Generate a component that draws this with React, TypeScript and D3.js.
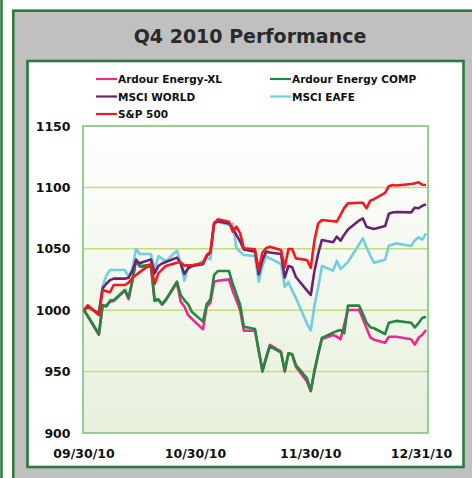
import { useEffect, useRef } from "react";
import { select, scaleLinear, scaleTime, line, timeParse } from "d3";

const dates = [
  "09/30/10", "10/01/10", "10/04/10", "10/05/10", "10/06/10", "10/07/10", "10/08/10",
  "10/11/10", "10/12/10", "10/13/10", "10/14/10", "10/15/10", "10/18/10", "10/19/10",
  "10/20/10", "10/21/10", "10/22/10", "10/25/10", "10/26/10", "10/27/10", "10/28/10",
  "10/29/10", "11/01/10", "11/02/10", "11/03/10", "11/04/10", "11/05/10", "11/08/10",
  "11/09/10", "11/10/10", "11/11/10", "11/12/10", "11/15/10", "11/16/10", "11/17/10",
  "11/18/10", "11/19/10", "11/22/10", "11/23/10", "11/24/10", "11/25/10", "11/26/10",
  "11/29/10", "11/30/10", "12/01/10", "12/02/10", "12/03/10", "12/06/10", "12/07/10",
  "12/08/10", "12/09/10", "12/10/10", "12/13/10", "12/14/10", "12/15/10", "12/16/10",
  "12/17/10", "12/20/10", "12/21/10", "12/22/10", "12/23/10", "12/27/10", "12/28/10",
  "12/29/10", "12/30/10", "12/31/10",
];

const ardourXL = [
  1000, 995, 980, 1003.5, 1003, 1007, 1007.5, 1016, 1009, 1023.5, 1040.5, 1035.5, 1035.5,
  1007.5, 1008.5, 1004.5, 1008, 1022.4, 1007, 1003, 996, 993, 984.4, 1002.9, 1006.1, 1023.2,
  1024, 1025.1, 1015.7, 1008, 1000.2, 983.3, 983.3, 967, 951.3, 962, 971.7, 966.2, 950,
  964.9, 963.5, 954, 941.8, 934, 950, 964, 976.5, 979.8, 978.5, 976.3, 988, 1000.2, 1000.2,
  993, 985.4, 977.9, 976, 973.5, 978.4, 978.4, 978.4, 976.3, 972, 977.5, 980, 983.9,
];

const ardourComp = [
  1000, 995.5, 980.6, 1004.2, 1003.4, 1007.8, 1008.2, 1016.5, 1010.5, 1024, 1041.4, 1036,
  1037, 1008.3, 1008.8, 1005, 1008.6, 1023.2, 1012.4, 1008.3, 1005, 998.8, 990.7, 1005,
  1008.8, 1028.7, 1031.9, 1031.9, 1021.5, 1013, 1004.2, 986.6, 984.7, 967, 950, 960.5,
  970.8, 965.4, 950.5, 964.9, 964.3, 955.4, 944.5, 934.5, 951, 965, 977.5, 981.7, 983,
  983.9, 981.2, 1003.7, 1003.7, 997, 990, 986.2, 985.3, 980.6, 989.8, 990.5, 991.3, 989.8,
  986, 989.5, 993.6, 994.7,
];

const msciWorld = [
  1000, 1003, 997, 1017.8, 1021.5, 1024.5, 1025.7, 1025.7, 1026.5, 1032, 1040.5, 1038.2,
  1041.4, 1030, 1036, 1038, 1039.3, 1042.8, 1038.2, 1029.5, 1034, 1036, 1037.5, 1044, 1047,
  1071, 1072.5, 1070.7, 1066.6, 1061.2, 1056, 1049.5, 1047.7, 1029.2, 1041, 1047.7, 1047,
  1045.7, 1026.5, 1036, 1035, 1027, 1016, 1012.4, 1032, 1046, 1057.2, 1055.3, 1059.9,
  1056.6, 1061.5, 1065.8, 1073, 1074.8, 1068, 1067, 1066.1, 1068.5, 1078.5, 1079.6, 1080,
  1079.7, 1083.5, 1083, 1085, 1086.2,
];

const msciEafe = [
  1000, 1003, 998, 1019.7, 1028, 1032.7, 1032.7, 1032.7, 1027, 1034, 1050, 1045.8, 1045.8,
  1032.7, 1044.1, 1042, 1039.8, 1048.5, 1038.2, 1024.1, 1034.9, 1035, 1040, 1043, 1041.4,
  1070, 1072.1, 1069.4, 1070.5, 1050.4, 1047.5, 1045, 1044.1, 1023.2, 1036, 1044.1, 1042.2,
  1037.6, 1019, 1023, 1016, 1010, 989, 983.5, 1004, 1018.5, 1036, 1032.2, 1040.3, 1033.5,
  1036.3, 1039.3, 1053.5, 1058.5, 1051, 1044.5, 1038.7, 1041, 1052.5, 1053.5, 1054.4,
  1052.3, 1056.9, 1059.3, 1057.5, 1062.6,
];

const sp500 = [
  1000, 1004, 996, 1016.5, 1015.5, 1014.6, 1020.5, 1020.5, 1022.5, 1026.2, 1028.7, 1031,
  1037.6, 1021.3, 1030, 1033, 1036, 1038.7, 1039, 1036.3, 1036.5, 1036.6, 1038.2, 1045,
  1047.7, 1070.7, 1074, 1072.1, 1064, 1068, 1062.6, 1050.4, 1049.5, 1032.7, 1047, 1050.5,
  1051.7, 1049, 1034.9, 1049.8, 1049.8, 1042.2, 1040.9, 1034.5, 1057, 1070.7, 1073.4,
  1072.4, 1072.1, 1077.7, 1083.3, 1087, 1087.5, 1087.5, 1083, 1089.2, 1090.4, 1095.6, 1101,
  1102, 1101.6, 1102.8, 1103.3, 1104.1, 1102.2, 1102,
];

const yTicks = [900, 950, 1000, 1050, 1100, 1150];
const xTicks = ["09/30/10", "10/30/10", "11/30/10", "12/31/10"];

const seriesNames = ["Ardour Energy-XL", "Ardour Energy COMP", "MSCI WORLD", "MSCI EAFE", "S&P 500"];
const seriesValues = [ardourXL, ardourComp, msciWorld, msciEafe, sp500];
const seriesColors = ["#ec2a8c", "#23883f", "#6b2270", "#72cde0", "#f2191f"];
// draw order: cyan, pink, green, purple, red on top
const drawOrder = [3, 0, 1, 2, 4];

const parse = timeParse("%m/%d/%y");
const font = "'DejaVu Sans', Verdana, sans-serif";

const drawChart = (ref: SVGSVGElement, size = { w: 472, h: 478 }) => {
  const svg = select(ref);
  svg.selectAll("*").remove();
  svg.attr("width", size.w).attr("height", size.h);

  const plot = { l: 83, r: 428, t: 126, b: 433 };

  const defs = svg.append("defs");
  const grad = defs
    .append("linearGradient")
    .attr("id", "plotBg")
    .attr("x1", 0)
    .attr("y1", 0)
    .attr("x2", 0)
    .attr("y2", 1);
  grad.append("stop").attr("offset", "0%").attr("stop-color", "#ffffff");
  grad.append("stop").attr("offset", "100%").attr("stop-color", "#e7f0db");

  // page frame
  svg.append("rect").attr("width", size.w).attr("height", size.h).attr("fill", "#ffffff");
  svg
    .append("line")
    .attr("x1", 1.5)
    .attr("x2", 1.5)
    .attr("y1", 0)
    .attr("y2", size.h)
    .attr("stroke", "#2b7a3d")
    .attr("stroke-width", 2.5);

  svg
    .append("rect")
    .attr("x", 13.3)
    .attr("y", 10.7)
    .attr("width", size.w)
    .attr("height", size.h)
    .attr("fill", "#c0c0c0")
    .attr("stroke", "#2b7a3d")
    .attr("stroke-width", 2.6);

  svg
    .append("text")
    .attr("x", 250)
    .attr("y", 43)
    .attr("text-anchor", "middle")
    .attr("font-family", font)
    .attr("font-weight", "bold")
    .attr("font-size", 19)
    .attr("fill", "#2a2a2a")
    .text("Q4 2010 Performance");

  svg
    .append("rect")
    .attr("x", 27.5)
    .attr("y", 61)
    .attr("width", 436)
    .attr("height", 406)
    .attr("fill", "#ffffff")
    .attr("stroke", "#2b7a3d")
    .attr("stroke-width", 2.6);

  const x = scaleTime()
    .domain([parse(xTicks[0])!, parse(xTicks[xTicks.length - 1])!])
    .range([84, 426]);
  const y = scaleLinear().domain([900, 1150]).range([plot.b, plot.t]);

  const g = svg.append("g");

  g.append("rect")
    .attr("x", plot.l)
    .attr("y", plot.t)
    .attr("width", plot.r - plot.l)
    .attr("height", plot.b - plot.t)
    .attr("fill", "url(#plotBg)");

  g.selectAll("line.grid")
    .data(yTicks.filter((t) => t > 900 && t < 1150))
    .join("line")
    .attr("class", "grid")
    .attr("x1", plot.l)
    .attr("x2", plot.r)
    .attr("y1", (d) => y(d))
    .attr("y2", (d) => y(d))
    .attr("stroke", "#c3dd76")
    .attr("stroke-width", 1.5);

  g.append("rect")
    .attr("x", plot.l)
    .attr("y", plot.t)
    .attr("width", plot.r - plot.l)
    .attr("height", plot.b - plot.t)
    .attr("fill", "none")
    .attr("stroke", "#82c27e")
    .attr("stroke-width", 1.6);

  g.selectAll("text.ytick")
    .data(yTicks)
    .join("text")
    .attr("class", "ytick")
    .attr("x", 70.5)
    .attr("y", (d) => y(d))
    .attr("dy", "0.36em")
    .attr("text-anchor", "end")
    .attr("font-family", font)
    .attr("font-weight", "bold")
    .attr("font-size", 12.5)
    .attr("fill", "#111")
    .text((d) => d);

  g.selectAll("text.xtick")
    .data(xTicks)
    .join("text")
    .attr("class", "xtick")
    .attr("x", (d, i) => (i === xTicks.length - 1 ? Math.min(x(parse(d)!), 457 - 35.5) : x(parse(d)!)))
    .attr("y", 458)
    .attr("text-anchor", "middle")
    .attr("font-family", font)
    .attr("font-weight", "bold")
    .attr("font-size", 12.5)
    .attr("fill", "#111")
    .text((d) => d);

  const path = line<number>()
    .x((d, i) => x(parse(dates[i])!))
    .y((d) => y(d));

  g.selectAll("path.series")
    .data(drawOrder)
    .join("path")
    .attr("class", "series")
    .attr("d", (k) => path(seriesValues[k]))
    .attr("fill", "none")
    .attr("stroke", (k) => seriesColors[k])
    .attr("stroke-width", 2.6)
    .attr("stroke-linejoin", "round");

  // legend: two columns, three rows
  const legend = g
    .selectAll("g.legend")
    .data(seriesNames)
    .join("g")
    .attr("class", "legend")
    .attr("transform", (d, i) => `translate(${i % 2 === 0 ? 96 : 270}, ${79 + Math.floor(i / 2) * 17.5})`);

  legend
    .append("line")
    .attr("x1", 0)
    .attr("x2", 21)
    .attr("stroke", (d, i) => seriesColors[i])
    .attr("stroke-width", 2.2);

  legend
    .append("text")
    .attr("x", 22)
    .attr("y", 4)
    .attr("font-family", font)
    .attr("font-weight", "bold")
    .attr("font-size", 10.5)
    .attr("fill", "#111")
    .text((d) => d);
};

export default function App() {
  const ref = useRef<SVGSVGElement>(null);

  useEffect(() => {
    if (ref.current) drawChart(ref.current);
  }, []);

  return <svg ref={ref} style={{ position: "absolute", left: 0, top: 0 }} />;
}
